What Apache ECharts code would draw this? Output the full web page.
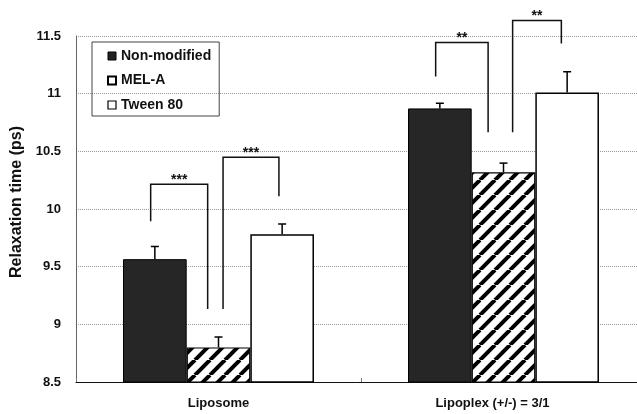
<!DOCTYPE html>
<html>
<head>
<meta charset="utf-8">
<script src="https://cdn.jsdelivr.net/npm/echarts@6/dist/echarts.min.js"></script>
<style>
  html, body { margin: 0; padding: 0; background: #fff; }
  #chart { width: 637px; height: 414px; }
</style>
</head>
<body>
<div id="chart"></div>
<script>
// Relaxation time by formulation
const categories = ['Liposome', 'Lipoplex (+/-) = 3/1'];
const seriesNames = ['Non-modified', 'MEL-A', 'Tween 80'];
const nonModified = [9.565, 10.872];
const melA = [8.80, 10.318];
const tween80 = [9.78, 11.01];
const errNonModified = [0.11, 0.045];
const errMelA = [0.09, 0.08];
const errTween80 = [0.09, 0.18];
const yTicks = [8.5, 9, 9.5, 10, 10.5, 11, 11.5];

// Significance brackets: category, left leg bottom, right leg bottom, bracket top
const bracketValues = [
  [0, 9.894, 9.132, 10.214],
  [0, 9.132, 10.11, 10.448],
  [1, 11.149, 10.665, 11.444],
  [1, 10.665, 11.435, 11.634]
];
const bracketLabels = ['***', '***', '**', '**'];

// Leg positions inside a category band (fraction of band width)
const bracketLegs = [
  [0.262, 0.462],
  [0.516, 0.712],
  [0.262, 0.446],
  [0.532, 0.703]
];

const FONT = 'Arial, "Liberation Sans", sans-serif';
const barCategoryGapFrac = 0.33;

// Diagonal hatch for MEL-A
function hatchPattern() {
  const s = 15;
  const c = document.createElement('canvas');
  c.width = s; c.height = s;
  const ctx = c.getContext('2d');
  ctx.fillStyle = '#fff';
  ctx.fillRect(0, 0, s, s);
  ctx.strokeStyle = '#000';
  ctx.lineWidth = 4;
  for (let k = -1; k <= 1; k++) {
    ctx.beginPath();
    ctx.moveTo(k * s, s);
    ctx.lineTo(k * s + s, 0);
    ctx.stroke();
  }
  return { image: c, repeat: 'repeat' };
}

function errorSeries(idx, values, errs) {
  return {
    type: 'custom',
    name: seriesNames[idx] + ' error',
    z: 5,
    silent: true,
    renderItem: function (params, api) {
      const cat = api.value(0);
      const v = api.value(1);
      const e = api.value(2);
      const center = api.coord([cat, v]);
      const band = api.size([1, 0])[0];
      const bw = band * (1 - barCategoryGapFrac) / 3;
      const x = center[0] + (idx - 1) * bw;
      const yTop = api.coord([cat, v + e])[1];
      const cap = 4;
      return {
        type: 'group',
        children: [
          { type: 'line', shape: { x1: x, y1: center[1], x2: x, y2: yTop }, style: { stroke: '#000', lineWidth: 1.5 } },
          { type: 'line', shape: { x1: x - cap, y1: yTop, x2: x + cap, y2: yTop }, style: { stroke: '#000', lineWidth: 1.5 } }
        ]
      };
    },
    data: values.map((v, i) => [i, v, errs[i]])
  };
}

const chart = echarts.init(document.getElementById('chart'));

chart.setOption({
  animation: false,
  backgroundColor: '#fff',
  grid: { left: 76, top: 36, width: 570, bottom: 32, containLabel: false, outerBoundsMode: 'none' },
  legend: {
    orient: 'vertical',
    left: 92,
    top: 42,
    padding: [7, 8, 4, 15],
    itemGap: 10.5,
    itemWidth: 8,
    itemHeight: 8,
    icon: 'rect',
    borderColor: '#444',
    borderWidth: 1,
    backgroundColor: 'transparent',
    textStyle: { fontFamily: FONT, fontWeight: 'bold', fontSize: 14, color: '#111' },
    data: [
      { name: 'Non-modified', itemStyle: { color: '#222', borderColor: '#000', borderWidth: 1 } },
      { name: 'MEL-A', itemStyle: { color: '#fff', borderColor: '#000', borderWidth: 2 } },
      { name: 'Tween 80', itemStyle: { color: '#fff', borderColor: '#000', borderWidth: 1.2 } }
    ]
  },
  xAxis: {
    type: 'category',
    data: categories,
    axisLine: { lineStyle: { color: '#111', width: 1 } },
    axisTick: { show: true, inside: true, length: 4, lineStyle: { color: '#777' } },
    axisLabel: {
      margin: 15,
      fontFamily: FONT,
      fontWeight: 'bold',
      fontSize: 13,
      color: '#111',
      formatter: function (v, i) { return i === 1 ? '{s|' + v + '}' : v; },
      rich: {
        s: { fontFamily: FONT, fontWeight: 'bold', fontSize: 13, color: '#111', padding: [0, 22, 0, 0] }
      }
    },
    splitLine: { show: false }
  },
  yAxis: {
    type: 'value',
    min: yTicks[0],
    max: yTicks[yTicks.length - 1],
    interval: 0.5,
    name: 'Relaxation time (ps)',
    nameLocation: 'middle',
    nameGap: 44,
    nameRotate: 90,
    nameTextStyle: { fontFamily: FONT, fontWeight: 'bold', fontSize: 16, color: '#111', padding: [0, 0, 0, 14] },
    axisLine: { show: true, lineStyle: { color: '#666', width: 1 } },
    axisTick: { show: false },
    axisLabel: {
      margin: 15,
      fontFamily: FONT,
      fontWeight: 'bold',
      fontSize: 13,
      color: '#111',
      formatter: function (v) { return String(v); }
    },
    splitLine: { show: true, lineStyle: { color: '#999', type: 'dotted', width: 1 } }
  },
  series: [
    {
      name: 'Non-modified',
      type: 'bar',
      barGap: '0%',
      barCategoryGap: '33%',
      itemStyle: { color: '#262626', borderColor: '#000', borderWidth: 1 },
      data: nonModified
    },
    {
      name: 'MEL-A',
      type: 'bar',
      barGap: '0%',
      barCategoryGap: '33%',
      itemStyle: { color: hatchPattern(), borderColor: '#000', borderWidth: 1.2 },
      data: melA
    },
    {
      name: 'Tween 80',
      type: 'bar',
      barGap: '0%',
      barCategoryGap: '33%',
      itemStyle: { color: '#fff', borderColor: '#000', borderWidth: 1.5 },
      data: tween80
    },
    errorSeries(0, nonModified, errNonModified),
    errorSeries(1, melA, errMelA),
    errorSeries(2, tween80, errTween80),
    {
      type: 'custom',
      name: 'significance',
      z: 6,
      silent: true,
      clip: false,
      renderItem: function (params, api) {
        const i = params.dataIndex;
        const cat = api.value(0);
        const center = api.coord([cat, api.value(3)]);
        const band = api.size([1, 0])[0];
        const start = center[0] - band / 2;
        const xl = start + bracketLegs[i][0] * band;
        const xr = start + bracketLegs[i][1] * band;
        const yTop = center[1];
        const yl = api.coord([cat, api.value(1)])[1];
        const yr = api.coord([cat, api.value(2)])[1];
        return {
          type: 'group',
          children: [
            {
              type: 'polyline',
              shape: { points: [[xl, yl], [xl, yTop], [xr, yTop], [xr, yr]] },
              style: { stroke: '#111', lineWidth: 1.5, fill: null }
            },
            {
              type: 'text',
              style: {
                x: (xl + xr) / 2,
                y: yTop + 3,
                text: bracketLabels[i],
                fill: '#111',
                font: 'bold 14px ' + FONT,
                textAlign: 'center',
                textVerticalAlign: 'bottom'
              }
            }
          ]
        };
      },
      data: bracketValues
    }
  ]
});
</script>
</body>
</html>
